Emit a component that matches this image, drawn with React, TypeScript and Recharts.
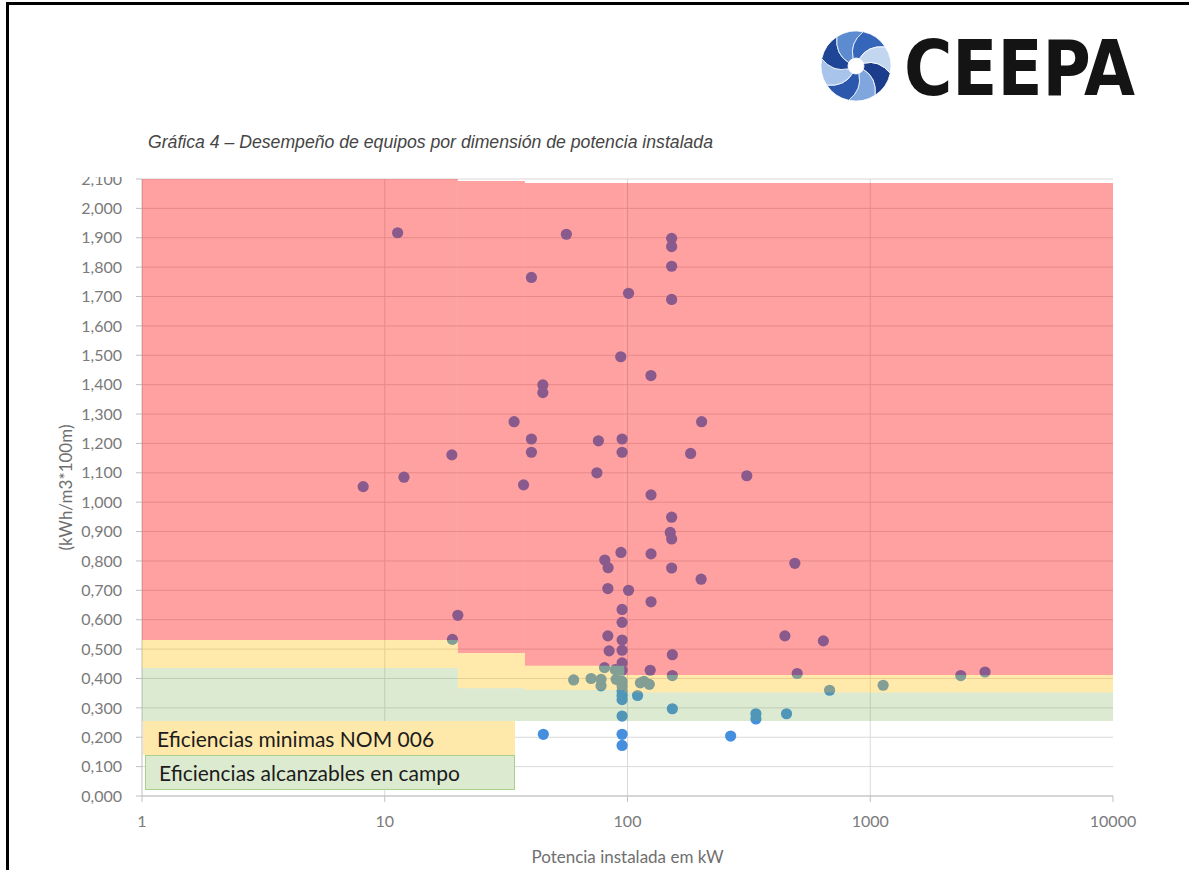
import React from 'react';
import {
  ScatterChart,
  Scatter,
  XAxis,
  YAxis,
  CartesianGrid,
  ReferenceArea,
  ReferenceLine,
} from 'recharts';

// equipos medidos: potencia instalada (kW) y desempeño (kWh/m3*100m)
const potencia = [
  8.15, 11.3, 12, 18.9, 20, 34.1, 37.3, 40.2, 40.2, 40.2, 44.8, 44.8, 56, 75.9, 74.8,
  80.6, 83.2, 83, 83, 84, 93.8, 95, 95, 94, 95, 95, 95, 95, 95, 95, 101, 101, 124.9, 125,
  125, 125, 124, 152, 152, 152, 152, 152, 150, 152, 152, 153, 182, 202, 201, 310, 445,
  489, 641,
  19, 45, 60, 70.8, 77.8, 77.8, 80.4, 89.8, 89, 95, 95, 95, 95, 95, 95, 95, 95, 110, 113,
  117, 123, 153, 153, 266, 338, 338, 452, 500, 680, 1130, 2360, 2970,
];
const desempeno = [
  1.053, 1.917, 1.085, 1.161, 0.615, 1.274, 1.059, 1.765, 1.215, 1.17, 1.399, 1.373, 1.912,
  1.209, 1.1, 0.803, 0.777, 0.706, 0.545, 0.494, 1.495, 1.215, 1.17, 0.829, 0.635, 0.591,
  0.531, 0.496, 0.453, 0.428, 1.711, 0.7, 1.431, 1.025, 0.824, 0.661, 0.428, 1.898, 1.87,
  1.803, 1.69, 0.949, 0.897, 0.875, 0.776, 0.481, 1.166, 1.274, 0.738, 1.09, 0.545, 0.792,
  0.528,
  0.533, 0.21, 0.395, 0.4, 0.397, 0.375, 0.437, 0.397, 0.43, 0.39, 0.374, 0.357, 0.342,
  0.328, 0.272, 0.21, 0.172, 0.342, 0.385, 0.39, 0.38, 0.41, 0.297, 0.204, 0.28, 0.262,
  0.28, 0.417, 0.36, 0.377, 0.41, 0.422,
];

const xTicks = [1, 10, 100, 1000, 10000];
const yTicks = [
  0, 0.1, 0.2, 0.3, 0.4, 0.5, 0.6, 0.7, 0.8, 0.9, 1.0, 1.1, 1.2, 1.3, 1.4, 1.5, 1.6, 1.7,
  1.8, 1.9, 2.0, 2.1,
];
const decadas = [10, 100, 1000];

// zonas por tramo de potencia
const tramoDesde = [1, 20, 37.8, 97];
const tramoHasta = [20, 37.8, 97, 10000];
const techo = [2.1, 2.093, 2.086, 2.086];
const pisoRojo = [0.531, 0.487, 0.443, 0.412];
const pisoAmarillo = [0.436, 0.367, 0.361, 0.352];
const pisoVerde = [0.255, 0.255, 0.255, 0.255];

const leyenda = ['Eficiencias minimas NOM 006', 'Eficiencias alcanzables en campo'];

const datos = potencia.map((x, i) => ({ x, y: desempeno[i] }));

const fmtY = (v: number) => v.toFixed(3).replace('.', ',');

const Punto = (props: any) => (
  <circle cx={props.cx} cy={props.cy} r={5.6} fill="#468fdf" />
);

const tituloY = (props: any) => {
  const { x, y, height } = props.viewBox;
  const cx = x + 3;
  const cy = y + height / 2;
  return (
    <text
      x={cx}
      y={cy}
      transform={`rotate(-90 ${cx} ${cy})`}
      textAnchor="middle"
      dominantBaseline="central"
      fill="#6f6f6f"
      fontSize={17}
    >
      (kWh/m3*100m)
    </text>
  );
};

const tituloX = (props: any) => {
  const { x, y, width } = props.viewBox;
  return (
    <text x={x + width / 2} y={y + 67} textAnchor="middle" fill="#6f6f6f" fontSize={17}>
      Potencia instalada em kW
    </text>
  );
};

const Logo = () => {
  const cx = 856;
  const cy = 66;
  const P = (r: number, deg: number) => {
    const a = (deg * Math.PI) / 180;
    return `${(cx + r * Math.cos(a)).toFixed(2)} ${(cy + r * Math.sin(a)).toFixed(2)}`;
  };
  const azules = ['#1c3c8c', '#7fa6dd', '#2b58ad', '#a9c4ea', '#1f4597', '#5c8bd0', '#3566b9', '#c3d6f0'];
  return (
    <svg width={1189} height={170} style={{ position: 'absolute', left: 0, top: 0 }}>
      {azules.map((c, i) => {
        const a = i * 45 - 20;
        const d = `M ${P(8, a)} Q ${P(24, a + 4)} ${P(35, a + 32)} A 35 35 0 0 1 ${P(35, a + 77)} Q ${P(24, a + 49)} ${P(8, a + 45)} A 8 8 0 0 0 ${P(8, a)} Z`;
        return <path key={i} d={d} fill={c} stroke="#ffffff" strokeWidth={0.8} />;
      })}
      <text
        x={904}
        y={95}
        fontFamily="'DejaVu Sans Condensed', 'DejaVu Sans'"
        fontWeight={700}
        fontSize={76}
        textLength={231}
        lengthAdjust="spacingAndGlyphs"
        fill="#141414"
      >
        CEEPA
      </text>
      <text
        x={148}
        y={148}
        fontFamily="'Liberation Sans Narrow', 'Liberation Sans'"
        fontStyle="italic"
        fontSize={18}
        textLength={565}
        lengthAdjust="spacingAndGlyphs"
        fill="#454545"
      >
        Gráfica 4 – Desempeño de equipos por dimensión de potencia instalada
      </text>
    </svg>
  );
};

export default function App() {
  return (
    <div
      style={{
        position: 'absolute',
        left: 0,
        top: 0,
        width: 1189,
        height: 870,
        overflow: 'hidden',
        background: '#ffffff',
        fontFamily: 'Lato, sans-serif',
      }}
    >
      {/* marco del documento */}
      <div style={{ position: 'absolute', left: 6, top: 2, width: 1183, height: 3, background: '#000' }} />
      <div style={{ position: 'absolute', left: 6, top: 2, width: 3, height: 868, background: '#000' }} />

      <Logo />

      <div style={{ position: 'absolute', left: 0, top: 177, width: 1189, height: 693, overflow: 'hidden' }}>
        <ScatterChart width={1189} height={693} margin={{ top: 2, right: 76, bottom: 0, left: 62 }}>
          <CartesianGrid vertical={false} stroke="#d9d9d9" />
          {decadas.map((d) => (
            <ReferenceLine key={d} x={d} stroke="#d9d9d9" zIndex={-50} />
          ))}
          <XAxis
            type="number"
            dataKey="x"
            scale="log"
            domain={[1, 10000]}
            ticks={xTicks}
            interval={0}
            allowDataOverflow
            height={74}
            tickSize={6}
            tickMargin={14}
            stroke="#bfbfbf"
            tick={{ fill: '#7a7a7a', fontSize: 16 }}
            label={tituloX}
          />
          <YAxis
            type="number"
            dataKey="y"
            domain={[0, 2.1]}
            ticks={yTicks}
            interval={0}
            width={80}
            tickSize={6}
            tickMargin={14}
            tickFormatter={fmtY}
            stroke="#bfbfbf"
            tick={{ fill: '#7a7a7a', fontSize: 16 }}
            label={tituloY}
          />
          <Scatter data={datos} shape={Punto} isAnimationActive={false} />
          {tramoDesde.map((x1, i) => (
            <ReferenceArea
              key={`r${i}`}
              x1={x1}
              x2={tramoHasta[i]}
              y1={pisoRojo[i]}
              y2={techo[i]}
              fill="#ff0000"
              fillOpacity={0.37}
              stroke="none"
              zIndex={650}
            />
          ))}
          {tramoDesde.map((x1, i) => (
            <ReferenceArea
              key={`a${i}`}
              x1={x1}
              x2={tramoHasta[i]}
              y1={pisoAmarillo[i]}
              y2={pisoRojo[i]}
              fill="#ffc000"
              fillOpacity={0.33}
              stroke="none"
              zIndex={650}
            />
          ))}
          {tramoDesde.map((x1, i) => (
            <ReferenceArea
              key={`v${i}`}
              x1={x1}
              x2={tramoHasta[i]}
              y1={pisoVerde[i]}
              y2={pisoAmarillo[i]}
              fill="#70ad47"
              fillOpacity={0.25}
              stroke="none"
              zIndex={650}
            />
          ))}
        </ScatterChart>
      </div>

      {/* leyenda de zonas */}
      <div
        style={{
          position: 'absolute',
          left: 143,
          top: 721,
          width: 372,
          height: 34,
          background: '#ffe9aa',
          boxSizing: 'border-box',
          paddingLeft: 14,
          paddingTop: 5,
          fontSize: 21,
          color: '#1c1c1c',
          whiteSpace: 'nowrap',
        }}
      >
        {leyenda[0]}
      </div>
      <div
        style={{
          position: 'absolute',
          left: 145,
          top: 755,
          width: 370,
          height: 35,
          background: '#dcebd0',
          border: '1px solid #a9d18e',
          boxSizing: 'border-box',
          paddingLeft: 13,
          paddingTop: 4,
          fontSize: 21,
          color: '#1c1c1c',
          whiteSpace: 'nowrap',
        }}
      >
        {leyenda[1]}
      </div>
    </div>
  );
}
